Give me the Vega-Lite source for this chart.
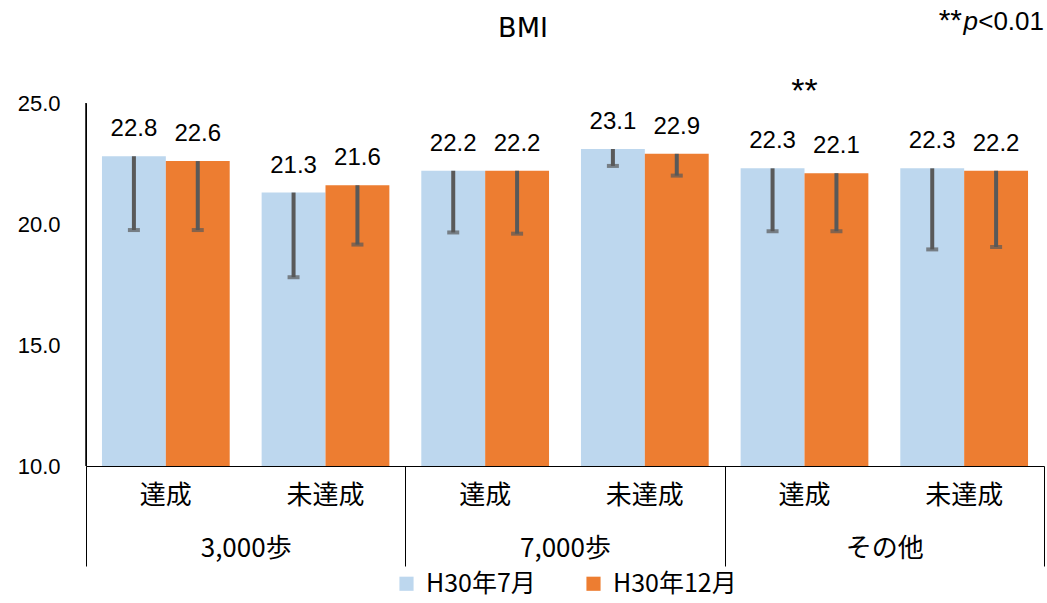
{
  "$schema": "https://vega.github.io/schema/vega-lite/v6.json",
  "width": 958,
  "height": 363,
  "autosize": {"type": "none"},
  "padding": {"left": 86, "top": 103, "right": 3, "bottom": 137},
  "background": "white",
  "title": {
    "text": "BMI",
    "anchor": "middle",
    "frame": "group",
    "dx": -42,
    "offset": -37,
    "font": "DejaVu Sans",
    "fontSize": 27,
    "fontWeight": "normal",
    "color": "#000"
  },
  "config": {
    "view": {"stroke": null},
    "axis": {"grid": false, "labelColor": "#000", "domainColor": "#000", "tickColor": "#000"},
    "legend": {"layout": {"bottom": {"anchor": "middle"}}}
  },
  "datasets": {
    "bmi": [
      {"group": "3,000歩", "cat": "3,000歩|達成", "period": "H30年7月", "value": 22.8, "lower": 19.75, "sig": ""},
      {"group": "3,000歩", "cat": "3,000歩|達成", "period": "H30年12月", "value": 22.6, "lower": 19.75, "sig": ""},
      {"group": "3,000歩", "cat": "3,000歩|未達成", "period": "H30年7月", "value": 21.3, "lower": 17.8, "sig": ""},
      {"group": "3,000歩", "cat": "3,000歩|未達成", "period": "H30年12月", "value": 21.6, "lower": 19.15, "sig": ""},
      {"group": "7,000歩", "cat": "7,000歩|達成", "period": "H30年7月", "value": 22.2, "lower": 19.65, "sig": ""},
      {"group": "7,000歩", "cat": "7,000歩|達成", "period": "H30年12月", "value": 22.2, "lower": 19.6, "sig": ""},
      {"group": "7,000歩", "cat": "7,000歩|未達成", "period": "H30年7月", "value": 23.1, "lower": 22.4, "sig": ""},
      {"group": "7,000歩", "cat": "7,000歩|未達成", "period": "H30年12月", "value": 22.9, "lower": 22.0, "sig": ""},
      {"group": "その他", "cat": "その他|達成", "period": "H30年7月", "value": 22.3, "lower": 19.7, "sig": "**"},
      {"group": "その他", "cat": "その他|達成", "period": "H30年12月", "value": 22.1, "lower": 19.7, "sig": ""},
      {"group": "その他", "cat": "その他|未達成", "period": "H30年7月", "value": 22.3, "lower": 18.95, "sig": ""},
      {"group": "その他", "cat": "その他|未達成", "period": "H30年12月", "value": 22.2, "lower": 19.05, "sig": ""}
    ],
    "note": [
      {"group": "その他"}
    ],
    "axisline": [
      {"group": "3,000歩"}
    ]
  },
  "layer": [
    {
      "data": {"name": "bmi"},
      "encoding": {
        "x": {
          "field": "cat",
          "type": "nominal",
          "sort": null,
          "scale": {
            "domain": ["3,000歩|達成", "3,000歩|未達成", "7,000歩|達成", "7,000歩|未達成", "その他|達成", "その他|未達成"],
            "paddingInner": 0,
            "paddingOuter": 0
          },
          "axis": {
            "orient": "bottom",
            "title": null,
            "ticks": false,
            "labelAngle": 0,
            "labelExpr": "split(datum.label, '|')[1]",
            "labelFont": "Noto Sans CJK JP",
            "labelFontSize": 26,
            "labelPadding": 16,
            "labelBaseline": "top",
            "domainWidth": 1
          }
        }
      },
      "layer": [
        {
          "encoding": {
            "xOffset": {
              "field": "period",
              "type": "nominal",
              "sort": null,
              "scale": {"domain": ["H30年7月", "H30年12月"], "paddingInner": 0, "paddingOuter": 0.25}
            },
            "y": {
              "field": "value",
              "type": "quantitative",
              "title": null,
              "scale": {"domain": [10, 25], "nice": false, "zero": false},
              "axis": {
                "title": null,
                "domain": true,
                "zindex": 1,
                "values": [10, 15, 20, 25],
                "format": ".1f",
                "ticks": false,
                "labelFont": "Liberation Sans",
                "labelFontSize": 22,
                "labelPadding": 26
              }
            }
          },
          "layer": [
            {
              "mark": {"type": "bar"},
              "encoding": {
                "y2": {"datum": 10},
                "color": {
                  "field": "period",
                  "type": "nominal",
                  "sort": null,
                  "scale": {"domain": ["H30年7月", "H30年12月"], "range": ["#BDD7EE", "#ED7D31"]},
                  "legend": {
                    "orient": "bottom",
                    "direction": "horizontal",
                    "title": null,
                    "symbolType": "square",
                    "symbolSize": 200,
                    "symbolStrokeWidth": 0,
                    "labelFont": "Noto Sans CJK JP",
                    "labelFontSize": 25,
                    "labelColor": "#000",
                    "labelOffset": 7,
                    "columnPadding": 45,
                    "offset": 4
                  }
                }
              }
            },
            {
              "mark": {"type": "rule", "color": "#595959", "strokeWidth": 4},
              "encoding": {"y2": {"field": "lower"}}
            },
            {
              "mark": {
                "type": "text",
                "baseline": "alphabetic",
                "dy": -20,
                "font": "Liberation Sans",
                "fontSize": 24,
                "color": "#000"
              },
              "encoding": {"text": {"field": "value", "type": "quantitative", "format": ".1f"}}
            }
          ]
        },
        {
          "mark": {"type": "tick", "color": "#595959", "size": 12, "thickness": 4},
          "encoding": {
            "xOffset": {
              "field": "period",
              "type": "nominal",
              "sort": null,
              "scale": {"domain": ["H30年7月", "H30年12月"], "paddingInner": 0, "paddingOuter": 0.25}
            },
            "y": {
              "field": "lower",
              "type": "quantitative",
              "title": null,
              "scale": {"domain": [10, 25], "nice": false, "zero": false},
              "axis": {
                "title": null,
                "domain": true,
                "zindex": 1,
                "values": [10, 15, 20, 25],
                "format": ".1f",
                "ticks": false,
                "labelFont": "Liberation Sans",
                "labelFontSize": 22,
                "labelPadding": 26
              }
            }
          }
        },
        {
          "mark": {
            "type": "text",
            "baseline": "alphabetic",
            "font": "Liberation Sans",
            "fontSize": 34,
            "color": "#000"
          },
          "encoding": {
            "y": {
              "datum": 25.05,
              "type": "quantitative",
              "title": null,
              "scale": {"domain": [10, 25], "nice": false, "zero": false},
              "axis": {
                "title": null,
                "domain": true,
                "zindex": 1,
                "values": [10, 15, 20, 25],
                "format": ".1f",
                "ticks": false,
                "labelFont": "Liberation Sans",
                "labelFontSize": 22,
                "labelPadding": 26
              }
            },
            "text": {"field": "sig", "type": "nominal"}
          }
        }
      ]
    },
    {
      "encoding": {
        "x": {
          "field": "group",
          "type": "nominal",
          "sort": null,
          "scale": {
            "domain": ["3,000歩", "7,000歩", "その他"],
            "paddingInner": 0,
            "paddingOuter": 0
          },
          "axis": {
            "orient": "bottom",
            "title": null,
            "domain": false,
            "ticks": true,
            "tickBand": "extent",
            "tickSize": 100,
            "tickWidth": 1,
            "labelAngle": 0,
            "labelFont": "Noto Sans CJK JP",
            "labelFontSize": 26,
            "labelBaseline": "top",
            "labelPadding": -31
          }
        },
        "y": {
          "datum": 28,
          "type": "quantitative",
          "title": null,
          "scale": {"domain": [10, 25], "nice": false, "zero": false},
          "axis": {
            "title": null,
            "domain": true,
            "zindex": 1,
            "values": [10, 15, 20, 25],
            "format": ".1f",
            "ticks": false,
            "labelFont": "Liberation Sans",
            "labelFontSize": 22,
            "labelPadding": 26
          }
        }
      },
      "layer": [
        {
          "data": {"name": "note"},
          "encoding": {"x": {"field": "group", "type": "nominal", "bandPosition": 1}},
          "layer": [
            {
              "mark": {"type": "text", "text": "<0.01", "align": "right", "baseline": "alphabetic", "font": "Liberation Sans", "fontSize": 26, "color": "#000"}
            },
            {
              "mark": {"type": "text", "text": "p", "align": "right", "baseline": "alphabetic", "dx": -66, "font": "Liberation Sans", "fontSize": 26, "fontStyle": "italic", "color": "#000"}
            },
            {
              "mark": {"type": "text", "text": "**", "align": "right", "baseline": "alphabetic", "dx": -82, "font": "Liberation Sans", "fontSize": 30, "color": "#000"}
            }
          ]
        },
        {
          "data": {"name": "axisline"},
          "mark": {"type": "rule", "color": "#000", "strokeWidth": 1.5},
          "encoding": {
            "x": {"field": "group", "type": "nominal", "bandPosition": 0},
            "y": {
              "datum": 10,
              "type": "quantitative",
              "title": null,
              "scale": {"domain": [10, 25], "nice": false, "zero": false},
              "axis": {
                "title": null,
                "domain": true,
                "zindex": 1,
                "values": [10, 15, 20, 25],
                "format": ".1f",
                "ticks": false,
                "labelFont": "Liberation Sans",
                "labelFontSize": 22,
                "labelPadding": 26
              }
            },
            "y2": {"datum": 25}
          }
        }
      ]
    }
  ],
  "resolve": {"scale": {"x": "independent"}, "axis": {"x": "independent"}}
}
